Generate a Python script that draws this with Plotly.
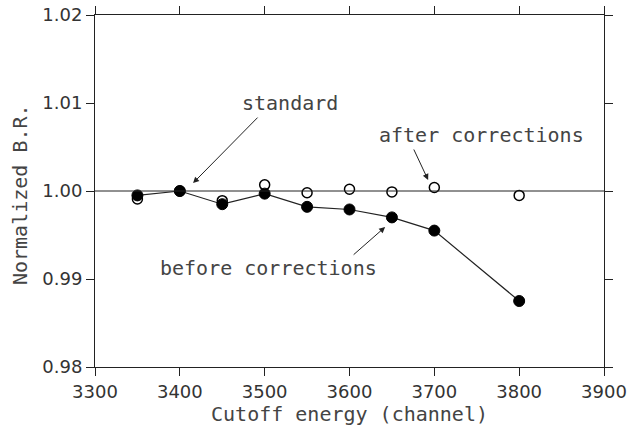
import plotly.graph_objects as go

energy = [3350, 3400, 3450, 3500, 3550, 3600, 3650, 3700, 3800]
before = [0.9995, 1.0000, 0.9985, 0.9997, 0.9982, 0.9979, 0.9970, 0.9955, 0.9875]
after = [0.9991, 1.0000, 0.9989, 1.0007, 0.9998, 1.0002, 0.9999, 1.0004, 0.9995]

xticks = [3300, 3400, 3500, 3600, 3700, 3800, 3900]
yticks = [0.98, 0.99, 1.00, 1.01, 1.02]
ytick_labels = ["0.98", "0.99", "1.00", "1.01", "1.02"]

FONT = "DejaVu Sans"
LFONT = "DejaVu Sans Mono"
INK = "#222"
fig = go.Figure()

fig.add_hline(y=1.0, line=dict(color=INK, width=1))

fig.add_trace(go.Scatter(
    x=energy, y=before, mode="lines+markers",
    line=dict(color=INK, width=1.2),
    marker=dict(symbol="circle", size=11, color="black", line=dict(color="black", width=1)),
    showlegend=False))
fig.add_trace(go.Scatter(
    x=energy, y=after, mode="markers",
    marker=dict(symbol="circle-open", size=10, color="black", line=dict(color="black", width=1.5)),
    showlegend=False))

tf = dict(family=LFONT, size=20, color="#444")

# text labels
fig.add_annotation(x=3530, y=1.0100, text="standard", showarrow=False, font=tf)
fig.add_annotation(x=3756, y=1.0064, text="after corrections", showarrow=False, font=tf)
fig.add_annotation(x=3505, y=0.99125, text="before corrections", showarrow=False, font=tf)

# arrows
arrow = dict(text="", showarrow=True, arrowhead=2, arrowsize=1.2, arrowwidth=1, arrowcolor=INK)
fig.add_annotation(x=3415.6, y=1.0009, ax=66, ay=-67, **arrow)
fig.add_annotation(x=3692.7, y=1.00125, ax=-15, ay=-32, **arrow)
fig.add_annotation(x=3642, y=0.99591, ax=-33, ay=29, **arrow)

# y-axis title
fig.add_annotation(xref="paper", yref="paper", x=-0.147, y=0.489, xanchor="center", yanchor="middle",
                   text="Normalized B.R.", textangle=-90, showarrow=False, font=tf)

axis_common = dict(showline=True, linecolor=INK, linewidth=1, mirror="allticks",
                   ticks="outside", ticklen=8, tickcolor=INK, tickwidth=1,
                   showgrid=False, zeroline=False, automargin=False,
                   tickfont=dict(family=FONT, size=18, color="#333"))

fig.update_xaxes(range=[3300, 3900], tickvals=xticks,
                 title=dict(text="Cutoff energy (channel)", font=tf, standoff=6),
                 **axis_common)
fig.update_yaxes(range=[0.98, 1.02], tickvals=yticks, ticktext=ytick_labels,
                 **axis_common)

fig.update_layout(width=630, height=430, margin=dict(l=95, r=26, t=15, b=63),
                  plot_bgcolor="white", paper_bgcolor="white")

fig.write_html("out.html")
